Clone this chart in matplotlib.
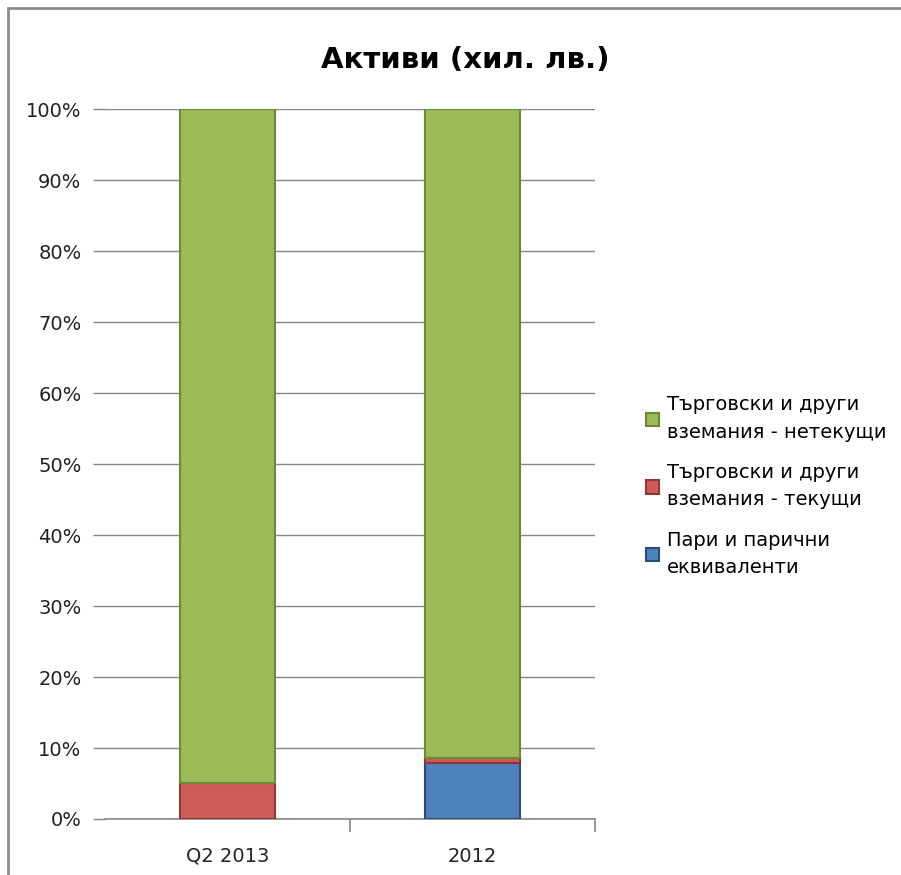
import matplotlib
matplotlib.use("Agg")
import matplotlib.pyplot as plt
from matplotlib.patches import Rectangle
from matplotlib.ticker import FixedLocator

categories = ["Q2 2013", "2012"]
series_names = ["Пари и парични\nеквиваленти",
                "Търговски и други\nвземания - текущи",
                "Търговски и други\nвземания - нетекущи"]
cash = [0.0, 7.9]
current_recv = [5.1, 0.7]
noncurrent_recv = [94.9, 91.4]
yticks = [0, 10, 20, 30, 40, 50, 60, 70, 80, 90, 100]
ytick_labels = ["0%", "10%", "20%", "30%", "40%", "50%", "60%", "70%", "80%", "90%", "100%"]

colors = ["#4F81BD", "#D05A57", "#9BBB59"]
edges = ["#2C4D75", "#8C3836", "#6B8A34"]

W, H = 901, 875
fig = plt.figure(figsize=(W / 100, H / 100), dpi=100)

# outer chart border
fig.patches.append(Rectangle((8 / W, -0.01), 1.0, 1 - 8 / H + 0.01,
                             transform=fig.transFigure, fill=False,
                             edgecolor="#8C8C8C", linewidth=2.0))

left, right, top, bottom = 105, 595, 109, 819
ax = fig.add_axes([left / W, 1 - bottom / H, (right - left) / W, (bottom - top) / H])

x = list(range(len(categories)))
width = 0.39
series = [cash, current_recv, noncurrent_recv]
base = [0.0] * len(categories)
handles = []
for vals, c, e, name in zip(series, colors, edges, series_names):
    b = ax.bar(x, vals, width, bottom=base, color=c, edgecolor=e, linewidth=1.5,
               label=name, zorder=3)
    handles.append(b)
    base = [b0 + v for b0, v in zip(base, vals)]

ax.set_xlim(-0.5, 1.5)
ax.set_ylim(0, 100)
ax.set_yticks(yticks)
ax.set_yticklabels(ytick_labels)
ax.yaxis.grid(True, color="#868686", linewidth=1.0, zorder=0)
ax.set_axisbelow(True)
for s in ["left", "right", "top"]:
    ax.spines[s].set_visible(False)
ax.spines["bottom"].set_color("#868686")
ax.spines["bottom"].set_linewidth(1.2)
ax.tick_params(axis="y", length=9, color="#868686", width=1.0, pad=8,
               labelsize=14, labelcolor="#222222")
ax.set_xticks(x)
ax.set_xticklabels(categories)
ax.tick_params(axis="x", which="major", length=0, pad=20, labelsize=14, labelcolor="#222222")
ax.xaxis.set_minor_locator(FixedLocator([0.5, 1.5]))
ax.tick_params(axis="x", which="minor", length=9, color="#868686", width=1.2)

fig.text(465 / W, 1 - 60 / H, "Активи (хил. лв.)", ha="center", va="center",
         fontsize=21, fontweight="bold", color="black")

leg = fig.legend(handles[::-1], series_names[::-1], loc="upper left",
                 bbox_to_anchor=(628 / W, 1 - 378 / H), frameon=False,
                 fontsize=14, handlelength=0.7, handleheight=0.7,
                 handletextpad=0.4, labelspacing=1.1)
for t in leg.get_texts():
    t.set_linespacing(1.55)

fig.savefig("out.png", dpi=100)
